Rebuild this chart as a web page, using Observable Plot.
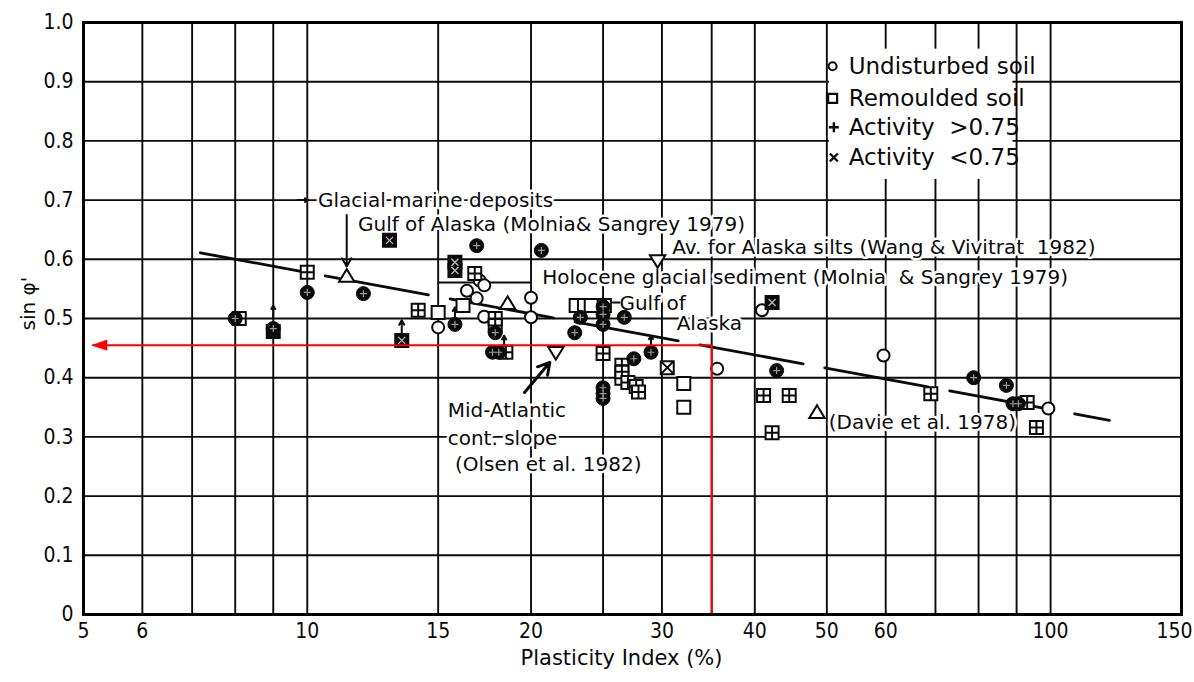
<!DOCTYPE html>
<html><head><meta charset="utf-8">
<script src="https://cdn.jsdelivr.net/npm/d3@7"></script>
<script src="https://cdn.jsdelivr.net/npm/@observablehq/plot@0.6"></script>
<style>body{margin:0;background:#fff}</style>
</head><body><div id="chart"></div>
<script>
// ---- tick labels / grid ----
const tickX = [5, 6, 8, 10, 15, 20, 30, 40, 50, 60, 80, 100, 150];
const gridX = [5, 6, 7, 8, 9, 10, 15, 20, 25, 30, 35, 40, 50, 60, 70, 80, 90, 100, 150];
const tickY = [0, 0.1, 0.2, 0.3, 0.4, 0.5, 0.6, 0.7, 0.8, 0.9, 1.0];

// ---- data [Plasticity Index %, sin phi'] ----
const undisturbed = [[15,0.485],[17.06,0.564],[17.3,0.556],[16.4,0.547],[16.9,0.534],[17.3,0.503],[20,0.535],[20,0.502],[35.6,0.415],[40.9,0.514],[59.6,0.4375],[99.3,0.348]];
const remoulded = [[16.2,0.522],[15,0.51],[23.0,0.522],[23.6,0.522],[24.1,0.522],[25.1,0.522],[32.1,0.39],[32.1,0.35]];
const remouldedPlus = [[8.1,0.5],[10,0.578],[14.1,0.514],[16.8,0.576],[17.9,0.5],[17.9,0.488],[18.5,0.443],[25,0.441],[26.5,0.421],[26.5,0.409],[26.5,0.399],[27,0.392],[27.7,0.385],[27.9,0.376],[41.1,0.37],[44.5,0.37],[42.2,0.307],[69,0.373],[93,0.358],[95.7,0.316]];
const remouldedTimes = [[30.5,0.417]];
const filled = [[8,0.5],[9,0.483],[10,0.544],[11.9,0.542],[15.8,0.49],[16.9,0.623],[20.65,0.615],[17.9,0.476],[17.75,0.443],[18.1,0.443],[22.9,0.476],[23.3,0.502],[25,0.52],[25,0.507],[25,0.49],[26.7,0.502],[25,0.383],[25,0.373],[25,0.365],[27.5,0.432],[29,0.443],[42.8,0.412],[78.8,0.40],[87.2,0.387],[89,0.356],[90.5,0.356]];
const darkSquare = [[12.9,0.632],[13.4,0.463],[15.8,0.595],[15.8,0.581],[42.2,0.527],[9,0.478]];
const triangles = [[11.3,0.571],[18.6,0.525],[48.5,0.341]];
const invTriangles = [[21.6,0.443],[29.6,0.598]];
// small vertical arrows [x, yBase, yTip]
const upArrows = [[9,0.502,0.522],[13.4,0.471,0.497],[15.8,0.497,0.519],[18.4,0.449,0.471],[29,0.451,0.471]];
// trend line
const trend = [[7.18,0.611],[120,0.328]];
// red reading line
const redLine = [[35,0],[35,0.455],[5.15,0.455]];
const redHead = [[5.25,0.455]];

// ---- annotations ----
const notes = [
  {t:"Glacial marine deposits", x:10.34, y:0.70},
  {t:"Gulf of Alaska (Molnia& Sangrey 1979)", x:11.7, y:0.659},
  {t:"Av. for Alaska silts (Wang & Vivitrat  1982)", x:30.97, y:0.62},
  {t:"Holocene glacial sediment (Molnia  & Sangrey 1979)", x:20.7, y:0.569},
  {t:"Gulf of", x:26.3, y:0.526},
  {t:"Alaska", x:31.4, y:0.4916},
  {t:"Mid-Atlantic", x:15.45, y:0.345},
  {t:"cont. slope", x:15.45, y:0.297},
  {t:"(Olsen et al. 1982)", x:15.8, y:0.253},
  {t:"(Davie et al. 1978)", x:50.3, y:0.324}
];
const legendLabels = ["Undisturbed soil", "Remoulded soil", "Activity  >0.75", "Activity  <0.75"];
const legendY = [0.926, 0.872, 0.823, 0.772];

// ---- custom symbols ----
function makeSymbol(fn){ return {draw(c, size){ fn(c, Math.sqrt(size/Math.PI)); }}; }
const symSquare = makeSymbol((c,r)=>{c.moveTo(-r,-r);c.lineTo(r,-r);c.lineTo(r,r);c.lineTo(-r,r);c.closePath();});
const symSquarePlus = makeSymbol((c,r)=>{c.moveTo(-r,-r);c.lineTo(r,-r);c.lineTo(r,r);c.lineTo(-r,r);c.closePath();c.moveTo(-r,0);c.lineTo(r,0);c.moveTo(0,-r);c.lineTo(0,r);});
const symSquareTimes = makeSymbol((c,r)=>{c.moveTo(-r,-r);c.lineTo(r,-r);c.lineTo(r,r);c.lineTo(-r,r);c.closePath();c.moveTo(-r,-r);c.lineTo(r,r);c.moveTo(r,-r);c.lineTo(-r,r);});
const symPlus = makeSymbol((c,r)=>{c.moveTo(-r,0);c.lineTo(r,0);c.moveTo(0,-r);c.lineTo(0,r);});
const symTimes = makeSymbol((c,r)=>{c.moveTo(-r,-r);c.lineTo(r,r);c.moveTo(r,-r);c.lineTo(-r,r);});
const symTri = makeSymbol((c,r)=>{c.moveTo(0,-r*1.05);c.lineTo(r*1.1,r*0.75);c.lineTo(-r*1.1,r*0.75);c.closePath();});
const symInvTri = makeSymbol((c,r)=>{c.moveTo(0,r*1.05);c.lineTo(r*1.1,-r*0.75);c.lineTo(-r*1.1,-r*0.75);c.closePath();});
const symLeft = makeSymbol((c,r)=>{c.moveTo(-r,0);c.lineTo(r,-r*0.7);c.lineTo(r,r*0.7);c.closePath();});

const X = d => d[0], Y = d => d[1];
const FONT = "DejaVu Sans, sans-serif";
const FONT_C = "DejaVu Sans Condensed, DejaVu Sans, sans-serif";
const ink = "#0a0a0a";

const chart = Plot.plot({
  width: 1194, height: 682,
  marginLeft: 83, marginRight: 13, marginTop: 22, marginBottom: 68,
  style: {fontFamily: FONT, background: "#fff", color: ink},
  x: {type: "log", domain: [5, 150]},
  y: {domain: [0, 1]},
  marks: [
    Plot.ruleX(gridX, {stroke: ink, strokeWidth: 1.9}),
    Plot.ruleY(tickY, {stroke: ink, strokeWidth: 1.9}),
    Plot.rect([0], {x1: 50.4, x2: 89, y1: 0.735, y2: 0.955, fill: "#fff"}),
    Plot.line(trend, {x: X, y: Y, stroke: ink, strokeWidth: 2.8, strokeDasharray: "105,22"}),
    Plot.text(notes, {x: "x", y: "y", text: "t", textAnchor: "start", fontSize: 20, fontFamily: FONT, fill: ink, stroke: "#fff", strokeWidth: 5}),
    // legend
    Plot.text(legendLabels, {x: 53.5, y: (d,i) => legendY[i], text: d => d, textAnchor: "start", fontSize: 23, fontFamily: FONT, fill: ink}),
    Plot.dot([legendY[0]], {x: 50.9, y: d => d, r: 4, stroke: ink, strokeWidth: 2, fill: "none"}),
    Plot.dot([legendY[1]], {x: 50.9, y: d => d, r: 4.5, symbol: symSquare, stroke: ink, strokeWidth: 2.2, fill: "none"}),
    Plot.dot([legendY[2]], {x: 51.1, y: d => d, r: 5, symbol: symPlus, stroke: ink, strokeWidth: 2.4, fill: "none"}),
    Plot.dot([legendY[3]], {x: 51.1, y: d => d, r: 4, symbol: symTimes, stroke: ink, strokeWidth: 2.4, fill: "none"}),
    // Holocene bar and Gulf of leader
    Plot.ruleY([0.561], {x1: 15, x2: 20, stroke: ink, strokeWidth: 2}),
    Plot.ruleY([0.527], {x1: 25.4, x2: 26.4, stroke: ink, strokeWidth: 2}),
    // arrows
    Plot.arrow(upArrows, {x: d => d[0], y1: d => d[1], y2: d => d[2], stroke: ink, strokeWidth: 2, headLength: 6}),
    Plot.arrow([[11.3,0.675,0.588]], {x: d => d[0], y1: d => d[1], y2: d => d[2], stroke: ink, strokeWidth: 2, headLength: 7}),
    Plot.arrow([[9.7,10.02,0.7]], {x1: d => d[0], x2: d => d[1], y: d => d[2], stroke: ink, strokeWidth: 2, headLength: 6}),
    Plot.arrow([[19.6,0.375,21.2,0.426]], {x1: d => d[0], y1: d => d[1], x2: d => d[2], y2: d => d[3], stroke: ink, strokeWidth: 3, headLength: 8}),
    // points
    Plot.dot(undisturbed, {x: X, y: Y, r: 6, stroke: ink, strokeWidth: 2, fill: "#fff"}),
    Plot.dot(remoulded, {x: X, y: Y, r: 6.5, symbol: symSquare, stroke: ink, strokeWidth: 2, fill: "#fff"}),
    Plot.dot(remouldedPlus, {x: X, y: Y, r: 6.5, symbol: symSquarePlus, stroke: ink, strokeWidth: 2, fill: "#fff"}),
    Plot.dot(remouldedTimes, {x: X, y: Y, r: 6.5, symbol: symSquareTimes, stroke: ink, strokeWidth: 2, fill: "#fff"}),
    Plot.dot(darkSquare, {x: X, y: Y, r: 6.5, symbol: symSquare, stroke: ink, strokeWidth: 2, fill: ink}),
    Plot.dot(darkSquare, {x: X, y: Y, r: 3.5, symbol: symTimes, stroke: "#bbb", strokeWidth: 1.3}),
    Plot.dot(filled, {x: X, y: Y, r: 7, fill: ink, stroke: ink, strokeWidth: 1}),
    Plot.dot(filled, {x: X, y: Y, r: 3.5, symbol: symPlus, stroke: "#999", strokeWidth: 1.2}),
    Plot.dot(triangles, {x: X, y: Y, r: 7, symbol: symTri, stroke: ink, strokeWidth: 2, fill: "#fff"}),
    Plot.dot(invTriangles, {x: X, y: Y, r: 7, symbol: symInvTri, stroke: ink, strokeWidth: 2, fill: "#fff"}),
    // red reading line
    Plot.line(redLine, {x: X, y: Y, stroke: "#f00", strokeWidth: 2}),
    Plot.dot(redHead, {x: X, y: Y, r: 8, symbol: symLeft, fill: "#f00", stroke: "none"}),
    Plot.frame({stroke: "#000", strokeWidth: 3}),
    Plot.axisX({ticks: tickX.slice(0, -1), tickFormat: d => String(d), tickSize: 0, tickPadding: 9, fontSize: 21, fontFamily: FONT_C, label: null}),
    Plot.axisX({ticks: tickX.slice(-1), tickFormat: d => String(d), tickSize: 0, tickPadding: 9, fontSize: 21, fontFamily: FONT_C, dx: -7, label: null}),
    Plot.axisY({ticks: tickY, tickFormat: d => d === 0 ? "0" : d.toFixed(1), tickSize: 0, tickPadding: 10, fontSize: 21, fontFamily: FONT_C, label: null}),
    Plot.text(["sin \u03C6'"], {frameAnchor: "left", dx: -55, dy: 12, rotate: -90, fontSize: 20, fontFamily: FONT, fill: ink}),
    Plot.text(["Plasticity Index (%)"], {frameAnchor: "bottom", dx: -11, dy: 50, fontSize: 21, fontFamily: FONT, fill: ink})
  ]
});
document.getElementById("chart").appendChild(chart);
</script></body></html>
